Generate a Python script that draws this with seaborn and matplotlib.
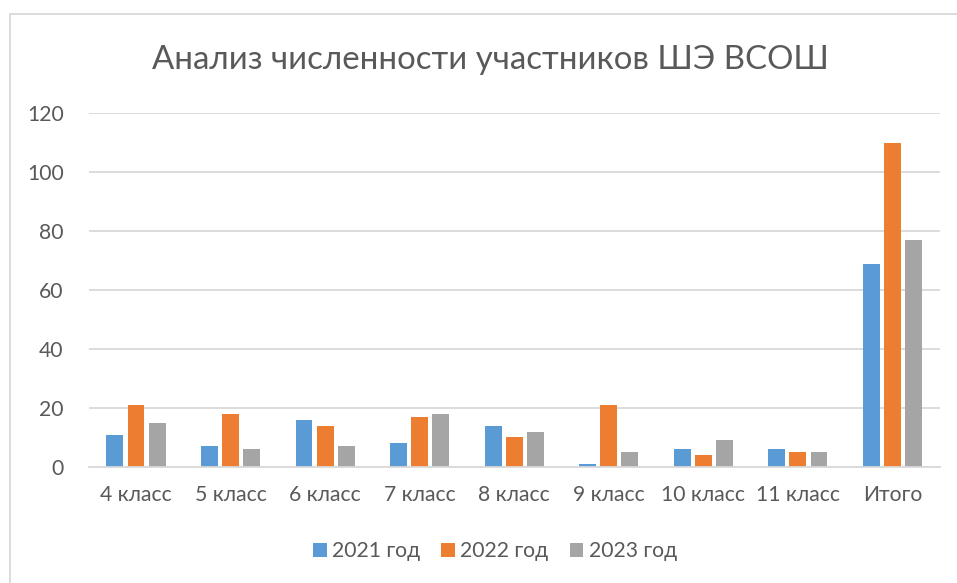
import matplotlib
matplotlib.use("Agg")
import matplotlib.pyplot as plt
import seaborn as sns
import pandas as pd
from matplotlib.patches import Rectangle

categories = ["4 класс", "5 класс", "6 класс", "7 класс", "8 класс", "9 класс", "10 класс", "11 класс", "Итого"]
series_names = ["2021 год", "2022 год", "2023 год"]
v2021 = [11, 7, 16, 8, 14, 1, 6, 6, 69]
v2022 = [21, 18, 14, 17, 10, 21, 4, 5, 110]
v2023 = [15, 6, 7, 18, 12, 5, 9, 5, 77]
yticks = [0, 20, 40, 60, 80, 100, 120]
title = "Анализ численности участников ШЭ ВСОШ"
colors = ["#5B9BD5", "#ED7D31", "#A5A5A5"]

rows = []
for name, vals in zip(series_names, [v2021, v2022, v2023]):
    for c, v in zip(categories, vals):
        rows.append({"cat": c, "series": name, "value": v})
df = pd.DataFrame(rows)

sns.set_theme(style="white")
plt.rcParams["font.family"] = ["Lato", "DejaVu Sans"]
text_color = "#595959"

fig = plt.figure(figsize=(9.57, 5.83), dpi=100)
ax = fig.add_axes([0.0927, 0.199, 0.982 - 0.0927, 0.806 - 0.199])

sns.barplot(data=df, x="cat", y="value", hue="series", palette=colors,
            width=0.669, gap=0.2, ax=ax, saturation=1, legend=True,
            edgecolor="none")

ax.set_ylim(0, 120)
ax.set_xlim(-0.5, len(categories) - 0.5)
ax.set_yticks(yticks)
ax.set_yticklabels([str(t) for t in yticks])
ax.grid(axis="y", color="#D9D9D9", linewidth=1.3)
ax.set_axisbelow(True)
for s in ["top", "right", "left"]:
    ax.spines[s].set_visible(False)
ax.spines["bottom"].set_color("#D9D9D9")
ax.spines["bottom"].set_linewidth(1.3)
ax.tick_params(axis="both", length=0, labelsize=15.2, colors=text_color)
ax.tick_params(axis="x", pad=13)
ax.tick_params(axis="y", pad=18)
ax.set_xlabel("")
ax.set_ylabel("")

leg = ax.legend(loc="center", bbox_to_anchor=(495 / 957, 1 - 551 / 583),
                bbox_transform=fig.transFigure, ncol=3, frameon=False,
                fontsize=15.2, handlelength=0.65, handleheight=0.65,
                handletextpad=0.25, columnspacing=1.0)
for t in leg.get_texts():
    t.set_color(text_color)

fig.text(490 / 957, 1 - 60 / 583, title, ha="center", va="center",
         fontsize=23.8, color=text_color)

fig.patches.append(Rectangle((10 / 957, -0.1), 1.2, 1 - 14 / 583 + 0.1,
                             transform=fig.transFigure, fill=False,
                             edgecolor="#D9D9D9", linewidth=1.3))

fig.savefig("out.png", dpi=100, facecolor="white")
